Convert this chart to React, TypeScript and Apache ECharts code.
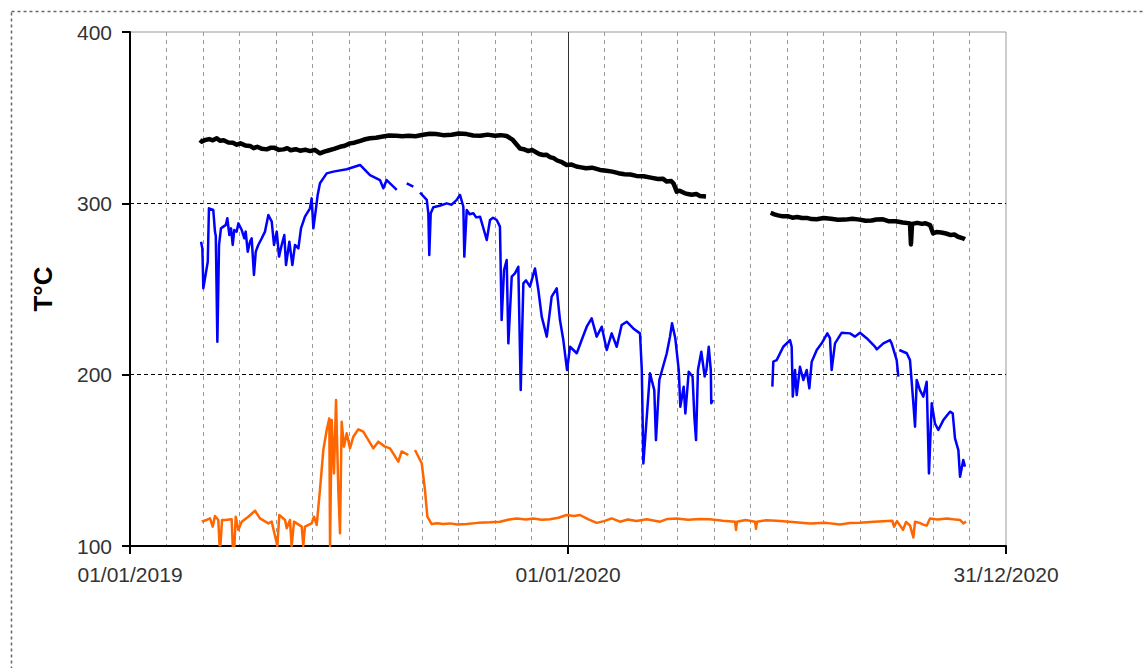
import React, { useEffect, useRef } from "react";
import * as echarts from "echarts";

// Days counted from 01/01/2019; x-axis runs to 31/12/2020 (day 730).
const AXIS_START_UTC = Date.UTC(2019, 0, 1);
const DAY_MS = 86400000;

const yTicks = [100, 200, 300, 400];
const xMajorDays = [0, 365, 730];

// Upper trace (black), [day, °C]
const upperTemps: Array<[number, number | null]> = [
  [58.3, 337], [60, 336], [62, 336.8], [66, 337.5], [69, 336.8], [72.3, 338], [75, 336.5],
  [78, 336.8], [82, 335.5], [85.8, 335.4], [89, 334.2], [92, 335], [96, 333.8],
  [100, 333.5], [103, 332.2], [106, 333], [110, 331.8], [113.9, 331.5], [117, 332.4],
  [120, 332.5], [124, 331.2], [128, 331.5], [131, 332.2], [134, 331], [138, 331.6],
  [141.7, 330.7], [146, 331.3], [150, 330.5], [154, 331.2], [158.3, 329.2], [162, 330.2],
  [166, 331], [170, 331.8], [175, 333], [179, 333.6], [183.3, 335], [187, 335.4],
  [192, 336.5], [196, 337.4], [200, 338], [205, 338.3], [210.8, 339], [216, 339.6],
  [222, 339.5], [227, 339.2], [232, 339.5], [238, 339.2], [244.2, 340], [250, 340.6],
  [255, 340.5], [261, 339.8], [268, 340], [274, 340.8], [280.6, 340.4], [286, 339.6],
  [292, 339.5], [298, 340.1], [304, 339.5], [309, 339.8], [313.9, 339.3], [316, 338.4],
  [319, 337], [322, 334.5], [325, 332], [328, 331.6], [332, 330.5], [335, 331.2],
  [338, 330], [341, 328.8], [344.2, 328.2], [347, 328.4], [350, 327], [353, 326.4],
  [356, 325], [360, 324], [363.9, 322.4], [368, 322.6], [372, 321.5], [376, 321],
  [380, 320.5], [385, 320.8], [391.7, 319.5], [397, 319], [402, 318.5], [407, 317.6],
  [412, 317], [417, 316.8], [422, 316], [428, 315.8], [434, 315], [440, 314.2],
  [444, 314.4], [447.3, 312.7], [451, 313], [453, 311.5], [455.6, 306.8], [458, 307.4],
  [462, 306], [465, 305.4], [468, 305], [472, 305.4], [475, 304.3], [480, 304], [500, null],
  [533.9, 294.5], [537, 293.6], [540, 293], [544, 292.4], [548, 292.5], [552, 291.6],
  [556, 292], [560, 291.4], [564, 291.5], [568, 290.8], [572.3, 290.7], [578, 291.4],
  [584, 291], [590, 290.4], [596, 290.5], [602, 291], [608, 290.5], [613, 289.8],
  [618, 290], [622, 290.6], [627.5, 290.7], [632, 289.6], [638, 289.5], [644, 288.8],
  [650, 288.3], [650.8, 276], [651.7, 288], [656, 288.6], [660, 288], [663, 288.4],
  [666.7, 287.3], [669.2, 282.5], [672, 283.2], [676, 283], [680, 282.4], [684, 281.5],
  [687, 281.8], [690, 280.5], [694.2, 279.6], [695.8, 279]
];

// Middle trace (blue), [day, °C]
const middleTemps: Array<[number, number | null]> = [
  [59.2, 277.6], [60.3, 273.7], [61.1, 250.4], [62.5, 256.2], [64.8, 265.9], [65.8, 297.1],
  [69.4, 296.1], [70.8, 283.5], [71.5, 281], [72.8, 219.2], [74.2, 275.7], [75.8, 285.4],
  [77.8, 286.4], [79.8, 287.4], [81.1, 291.3], [82.8, 281.5], [84.2, 285.4], [85.6, 275.7],
  [86.9, 284.4], [88.9, 283.5], [90.3, 288.3], [93.1, 284.4], [95.3, 279.6], [96.4, 283.5],
  [98.1, 271.8], [100, 277.6], [101.4, 279.6], [103.3, 258.2], [104.8, 271.8], [106.9, 275.7],
  [109.8, 279.6], [112.5, 283.5], [115.3, 293.2], [118.1, 289.3], [120, 275.7], [122.3, 283.5],
  [124.2, 268.9], [126.4, 275.7], [128.6, 281.5], [130, 264], [132.8, 277.6], [135.3, 264],
  [137.5, 275.7], [140.3, 273.7], [142.5, 285.4], [145.8, 292.2], [150, 297.1], [151.4, 302.9],
  [152.8, 285.4], [155, 297.1], [156.4, 304.9], [158.3, 311.7], [163.9, 317.5], [169.4, 318.5],
  [180.6, 319.9], [191.7, 322.4], [200, 316.5], [208.3, 313.6], [211.1, 308.8], [213.9, 313.6],
  [222.3, 307.8], [225, null],
  [230.6, 311.7], [236.1, 309.7], [238, null],
  [241.7, 306.2], [247.3, 302], [248.6, 294.2], [249.4, 269.8], [250.6, 294.2], [252.8, 297.7],
  [258, 298.6], [263.9, 300], [268, 299.2], [272.3, 302], [275, 304.9], [277.8, 298],
  [278.6, 268.9], [280.6, 296.1], [283, 293.6], [286.1, 294.2], [288.5, 291.8], [291.7, 292.2],
  [297.3, 278.6], [300, 290.3], [302.5, 291.6], [305.6, 290.3], [308.3, 286.4],
  [309.7, 231.9], [311.7, 261.1], [313.9, 266.9], [315.3, 218.3], [318.1, 257.2], [320.8, 259.1],
  [323.6, 263], [325.6, 191], [327.8, 253.3], [330, 255], [333.3, 251.4], [337.5, 262],
  [340.3, 249.4], [343.1, 233.9], [347.3, 222.2], [351.4, 245.5], [355.6, 250.4], [358.3, 231.9],
  [361.1, 220.2], [364.2, 202.7], [366.7, 216.3], [372.3, 212.5], [376.4, 220.2], [380.6, 228],
  [384.7, 232.9], [388.9, 222.2], [393.1, 228], [397.3, 214.4], [401.4, 224.1], [405.6, 216.3],
  [409.7, 229], [413.9, 230.9], [419.4, 227], [425, 224.1], [426.5, 202.7], [427.8, 148.2],
  [433.3, 200.8], [436.9, 191], [438.3, 161.8], [441.1, 196.9], [447.3, 212.5], [450, 222.2],
  [451.7, 230], [454.4, 221.3], [457.3, 202.7], [458.6, 181.3], [461.4, 193], [462.8, 177.4],
  [465.6, 201.7], [468.8, 198.9], [470.3, 175.4], [471.7, 161.8], [473.3, 202.7], [476.1, 213.4],
  [478.9, 198.9], [480.3, 202.7], [482.3, 216.3], [484, 202.7], [484.4, 183.3], [485.8, 185.2],
  [500, null],
  [535.3, 193], [536.1, 207.6], [538.9, 208.5], [544.4, 216.3], [550, 220.2], [551.4, 216.3],
  [552.3, 187.2], [554.2, 202.7], [555.6, 188.1], [558.3, 204.6], [561.1, 196.9], [563.9, 202.7],
  [566.1, 192], [568.1, 207.6], [572.3, 214.4], [576.4, 218.3], [581.1, 224.1], [583.3, 221.3],
  [584.7, 202.7], [587.5, 218.3], [593.1, 224.5], [600, 224.1], [604.2, 222.2], [608.3, 224.5],
  [613.9, 221.3], [620.8, 216.3], [622.3, 214.8], [627.8, 218.3], [633.3, 220.2], [634.7, 218.3],
  [638.9, 208.5], [640.3, 198.9], [640.7, null],
  [641.1, 214.4], [647.3, 212.5], [650, 208.5], [652.8, 183.3], [654.2, 169.6], [655.6, 196.9],
  [658.3, 191], [661.1, 187.2], [663.9, 195.9], [665.8, 142.4], [668.1, 183.3], [670.8, 171.5],
  [673.6, 167.7], [677.8, 173.5], [683.3, 178.4], [685.6, 177.4], [687.5, 162.8], [690.3, 156],
  [691.7, 140.4], [694.4, 150.2], [695.8, 146.3]
];

// Lower trace (orange), [day, °C]
const lowerTemps: Array<[number, number | null]> = [
  [59.8, 114.2], [63, 115], [66.7, 116.1], [68.9, 111.3], [70.8, 117.5], [73.6, 115.2],
  [74.6, 100.5], [75.4, 100.5], [76.7, 115.2], [79.2, 115.2], [84.7, 115.6], [85.6, 100],
  [87, 100], [88.1, 117.1], [90.3, 109.4], [93.1, 114.2], [98.6, 117.1], [104.2, 120.6],
  [108.3, 116.1], [115.3, 113.2], [118.1, 114.2], [122.8, 100], [124.4, 118.1], [129.2, 115.2],
  [130.6, 110.4], [133.3, 115.2], [134.7, 100], [136.7, 114.2], [143.1, 111.3], [144.4, 100],
  [145.8, 111.3], [151.4, 113.2], [153.3, 117.1], [155.6, 112.3], [158.3, 132.7], [161.1, 156],
  [163.9, 167.7], [166.1, 174.5], [166.7, 100], [168.1, 173.5], [170, 142.4], [171.7, 185.2],
  [173.6, 132.7], [175, 107.4], [176.4, 172.5], [178.3, 158], [180.6, 165.8], [183.3, 157],
  [186.1, 163.8], [190.3, 168.1], [194.4, 166.7], [202.8, 157], [206.9, 160.9], [212.5, 158],
  [216.7, 157], [223.6, 149.2], [226.4, 155.2], [231.9, 153.1], [233.5, null],
  [237.5, 156], [243.1, 148.3], [245.8, 132.7], [247.8, 117.1], [251.4, 112.8], [256, 113.3],
  [261.1, 112.8], [266.7, 113.2], [273, 112.5], [280.6, 112.8], [290, 113.5], [300, 113.8],
  [308.3, 114.2], [316, 115.5], [322.3, 116.1], [330, 115.5], [336.1, 116.1], [343, 115.3],
  [350, 115.6], [357, 116.5], [363.9, 118.1], [370, 117.5], [375, 118.1], [382, 115.5],
  [388.9, 113.5], [395, 114.5], [401.4, 116.1], [408.3, 114.2], [415, 115.5], [422, 114.6],
  [430.6, 115.6], [441.7, 114.2], [448, 115.8], [455.6, 116.1], [465, 115.3], [475, 115.8],
  [483.3, 115.6], [494, 114.8], [504.2, 114.2], [505, 109.4], [505.8, 114.2], [513, 115.2],
  [520.8, 114.2], [521.7, 110], [522.5, 114.2], [530, 115], [538.9, 114.8], [552, 114],
  [566.7, 113.2], [580, 113.5], [591.7, 112.6], [600, 113.4], [608.3, 113.5], [620, 114.2],
  [635.3, 114.8], [636.7, 111.3], [639.2, 114.5], [644.2, 109.4], [646.7, 114], [650, 112],
  [652.8, 105], [654.2, 114.2], [658, 113.5], [661, 112.5], [663.9, 111.9], [666.7, 116.1],
  [673, 115.5], [680.6, 116.1], [686, 115.6], [691.7, 115.2], [694.4, 113.2], [696.7, 114.2]
];

const FONT = "'Liberation Sans', Arial, sans-serif";

function dayToLabel(day: number): string {
  const d = new Date(AXIS_START_UTC + Math.round(day) * DAY_MS);
  const dd = String(d.getUTCDate()).padStart(2, "0");
  const mm = String(d.getUTCMonth() + 1).padStart(2, "0");
  return `${dd}/${mm}/${d.getUTCFullYear()}`;
}

export default function App() {
  const ref = useRef<HTMLDivElement>(null);

  useEffect(() => {
    if (!ref.current) return;
    const chart = echarts.init(ref.current, undefined, { renderer: "svg" });

    const lineSeries = (name: string, data: Array<[number, number | null]>, color: string, width: number, z: number) => ({
      name,
      type: "line",
      data,
      showSymbol: false,
      symbol: "none",
      connectNulls: false,
      z,
      lineStyle: { color, width, join: "round" },
      emphasis: { disabled: true },
    });

    chart.setOption({
      animation: false,
      backgroundColor: "#ffffff",
      graphic: [
        {
          type: "rect",
          shape: { x: 11.5, y: 11.5, width: 1200, height: 800 },
          style: { fill: "none", stroke: "#666", lineWidth: 1.5, lineDash: [3, 3] },
          silent: true,
        },
      ],
      grid: {
        left: 130,
        top: 32,
        right: 138,
        bottom: 122,
        show: true,
        borderColor: "#9a9a9a",
        borderWidth: 1,
        backgroundColor: "transparent",
      },
      xAxis: {
        type: "value",
        min: xMajorDays[0],
        max: xMajorDays[xMajorDays.length - 1],
        interval: 365,
        axisLine: { show: true, onZero: false, lineStyle: { color: "#000", width: 2 } },
        axisTick: { show: true, length: 8, lineStyle: { color: "#000", width: 2 } },
        axisLabel: {
          formatter: (v: number) => dayToLabel(v),
          color: "#333",
          fontSize: 21,
          fontFamily: FONT,
          margin: 18,
          showMinLabel: true,
          showMaxLabel: true,
        },
        splitLine: {
          show: true,
          showMinLine: false,
          showMaxLine: false,
          lineStyle: { color: "#333", width: 1, type: "solid" },
        },
        minorTick: { show: false, splitNumber: 12 },
        minorSplitLine: {
          show: true,
          lineStyle: { color: "#9a9a9a", width: 1, type: [4, 4] },
        },
      },
      yAxis: {
        type: "value",
        min: yTicks[0],
        max: yTicks[yTicks.length - 1],
        interval: 100,
        name: "T°C",
        nameLocation: "middle",
        nameRotate: 90,
        nameGap: 74,
        nameTextStyle: { fontSize: 26, fontWeight: "bold", color: "#000", fontFamily: FONT },
        axisLine: { show: true, onZero: false, lineStyle: { color: "#000", width: 2 } },
        axisTick: { show: true, length: 8, lineStyle: { color: "#000", width: 2 } },
        axisLabel: { color: "#333", fontSize: 21, fontFamily: FONT, margin: 18 },
        splitLine: {
          show: true,
          showMinLine: false,
          showMaxLine: false,
          lineStyle: { color: "#000", width: 1, type: [4, 3] },
        },
      },
      series: [
        lineSeries("lower", lowerTemps, "#ff6600", 2.5, 2),
        lineSeries("middle", middleTemps, "#0000ff", 2.5, 3),
        lineSeries("upper", upperTemps, "#000000", 4.5, 4),
      ],
    });

    return () => chart.dispose();
  }, []);

  return (
    <div
      ref={ref}
      style={{ position: "absolute", left: 0, top: 0, width: 1144, height: 668 }}
    />
  );
}
